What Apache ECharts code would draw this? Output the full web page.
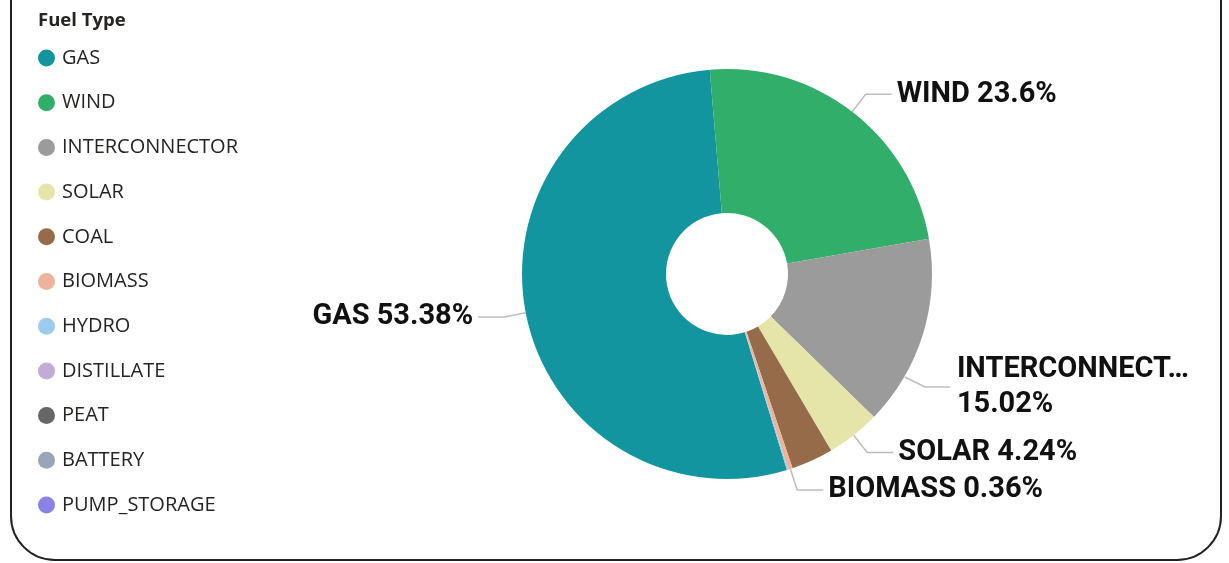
<!DOCTYPE html>
<html>
<head>
<meta charset="utf-8">
<title>Fuel Type</title>
<script src="https://cdn.jsdelivr.net/npm/echarts@6/dist/echarts.min.js"></script>
<style>
html,body{margin:0;padding:0;background:#fff;}
#chart{width:1229px;height:563px;}
</style>
</head>
<body>
<div id="chart"></div>
<script>
// share of generation, %
var fuelTypes=['GAS','WIND','INTERCONNECTOR','SOLAR','COAL','BIOMASS','HYDRO','DISTILLATE','PEAT','BATTERY','PUMP_STORAGE'];
var fuelShares=[53.38,23.6,15.02,4.24,3.3,0.36,0.1,0,0,0,0];
var fuelColors=['#12959f','#30ae6a','#9b9b9b','#e6e5a9','#956b49','#eeb49b','#9dcbf0','#c2abd5','#666666','#9aa6b8','#8a82e6'];
// slices that carry a data label in the original
var labelled=['GAS','WIND','INTERCONNECTOR','SOLAR','BIOMASS'];

var chart=echarts.init(document.getElementById('chart'));

var pieData=[];
for(var i=0;i<fuelTypes.length;i++){
	var show=labelled.indexOf(fuelTypes[i])!=-1;
	pieData.push({
		name:fuelTypes[i],
		value:fuelShares[i],
		itemStyle:{color:fuelColors[i]},
		label:{show:show},
		labelLine:{show:show}
	});
}

var option={
	animation:false,
	title:{
		text:'Fuel Type',
		left:33,
		top:6,
		textStyle:{fontFamily:'Open Sans',fontSize:18.5,fontWeight:'bold',color:'#252423'}
	},
	legend:{
		orient:'vertical',
		left:33,
		top:43,
		icon:'circle',
		itemWidth:17,
		itemHeight:17,
		itemGap:24.7,
		data:fuelTypes,
		textStyle:{fontFamily:'Open Sans',fontSize:20,color:'#252423',padding:[0,0,0,2]}
	},
	graphic:[{
		type:'rect',
		shape:{x:11,y:-80,width:1210,height:640,r:44},
		style:{fill:'none',stroke:'#222',lineWidth:2},
		silent:true
	}],
	series:[{
		type:'pie',
		center:[727,274],
		radius:[61,205],
		startAngle:-73,
		clockwise:true,
		minAngle:0,
		avoidLabelOverlap:true,
		stillShowZeroSum:true,
		data:pieData,
		label:{
			position:'outside',
			fontFamily:'Roboto',
			fontWeight:'bold',
			fontSize:29,
			color:'#111',
			lineHeight:35,
			formatter:function(p){
				var n=p.name;
				if(n.length>12){
					return n.slice(0,12)+'…\n'+p.value+'%';
				}
				return n+' '+p.value+'%';
			}
		},
		labelLine:{
			length:22,
			length2:26,
			lineStyle:{color:'#bdbdbd',width:1.5}
		},
		// the two-line interconnector label sits lower in the original
		labelLayout:function(p){
			if(p.dataIndex==2){
				var lx=p.labelRect.x-18;
				var ly=p.labelRect.y+p.labelRect.height/2+46;
				return {
					x:lx,
					y:ly,
					labelLinePoints:[[lx-52,ly-10],[lx-32,ly],[lx-7,ly]]
				};
			}
		}
	}]
};

chart.setOption(option);
</script>
</body>
</html>
